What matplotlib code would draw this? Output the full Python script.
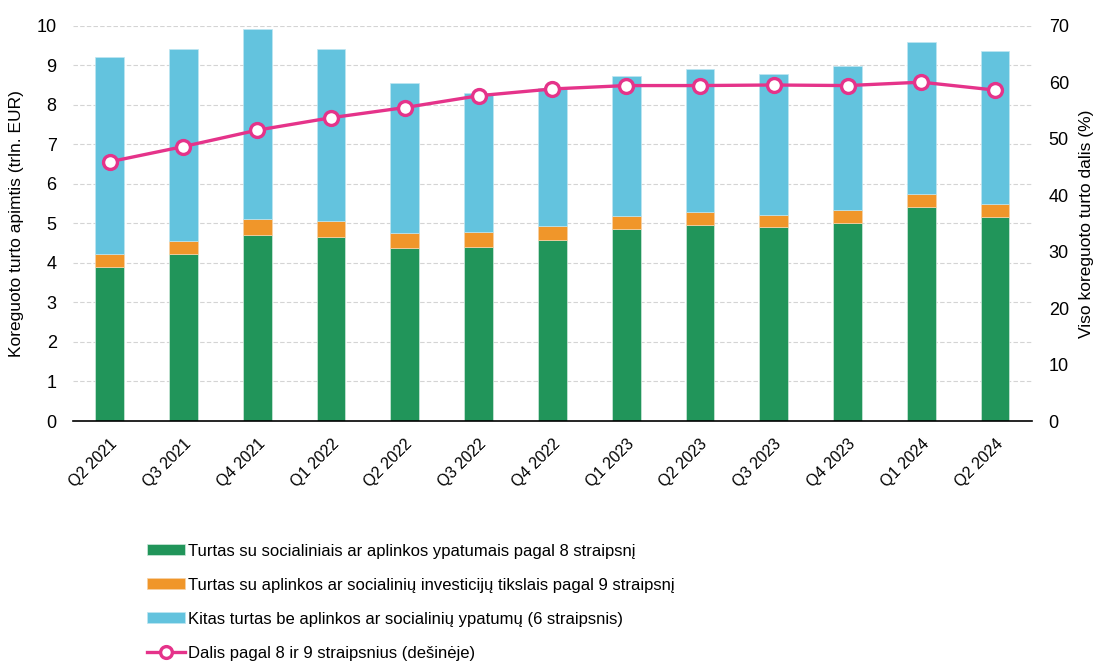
import matplotlib
matplotlib.use("Agg")
import matplotlib.pyplot as plt
import numpy as np

# Data
quarters = ["Q2 2021", "Q3 2021", "Q4 2021", "Q1 2022", "Q2 2022", "Q3 2022", "Q4 2022",
            "Q1 2023", "Q2 2023", "Q3 2023", "Q4 2023", "Q1 2024", "Q2 2024"]
art8 = [3.90, 4.22, 4.71, 4.65, 4.38, 4.41, 4.58, 4.86, 4.95, 4.90, 5.01, 5.41, 5.17]
art9 = [0.32, 0.34, 0.39, 0.40, 0.37, 0.36, 0.35, 0.32, 0.34, 0.32, 0.33, 0.33, 0.32]
art6 = [4.99, 4.84, 4.82, 4.36, 3.81, 3.53, 3.49, 3.55, 3.61, 3.56, 3.65, 3.85, 3.87]
share = [45.9, 48.6, 51.5, 53.7, 55.5, 57.6, 58.8, 59.4, 59.4, 59.5, 59.4, 60.0, 58.6]

labels = ["Turtas su socialiniais ar aplinkos ypatumais pagal 8 straipsnį",
          "Turtas su aplinkos ar socialinių investicijų tikslais pagal 9 straipsnį",
          "Kitas turtas be aplinkos ar socialinių ypatumų (6 straipsnis)",
          "Dalis pagal 8 ir 9 straipsnius (dešinėje)"]

green = "#21955a"
orange = "#f0962a"
blue = "#63c3de"
pink = "#e5338a"

plt.rcParams["font.family"] = ["Liberation Sans", "DejaVu Sans"]

fig = plt.figure(figsize=(10.95, 6.62), dpi=100)
ax = fig.add_axes([72.7 / 1095, 1 - 421 / 662, (1032 - 72.7) / 1095, (421 - 25.7) / 662])
ax2 = ax.twinx()

x = np.arange(len(quarters))
a8 = np.array(art8)
a9 = np.array(art9)
a6 = np.array(art6)
w = 0.39
b1 = ax.bar(x, a8, w, color=green, edgecolor="#cfe9dc", linewidth=0.5, label=labels[0], zorder=2)
b2 = ax.bar(x, a9, w, bottom=a8, color=orange, edgecolor="#f6d2a8", linewidth=0.5, label=labels[1], zorder=2)
b3 = ax.bar(x, a6, w, bottom=a8 + a9, color=blue, edgecolor="#bfe6f1", linewidth=0.5, label=labels[2], zorder=2)

ln, = ax2.plot(x, share, color=pink, lw=2.4, marker="o", ms=10, mfc="white", mec=pink, mew=2.4,
               label=labels[3], zorder=3)

ax.set_xlim(-0.5, len(quarters) - 0.5)
ax.set_ylim(0, 10)
ax2.set_ylim(0, 70)
ax.set_yticks(range(0, 11))
ax2.set_yticks(range(0, 71, 10))

ax.yaxis.grid(True, color="#d4d4d4", linestyle=(0, (4, 2)), linewidth=0.8, zorder=0)
ax.set_axisbelow(True)

for a in (ax, ax2):
    for s in ("top", "left", "right", "bottom"):
        a.spines[s].set_visible(False)
ax.spines["bottom"].set_visible(True)
ax.spines["bottom"].set_color("black")
ax.spines["bottom"].set_linewidth(1.2)

ax.tick_params(axis="y", length=0, pad=11.5, labelsize=13)
ax2.tick_params(axis="y", length=0, pad=12, labelsize=13)
ax.tick_params(axis="x", length=0, pad=11)
ax.set_xticks(x)
ax.set_xticklabels(quarters, rotation=45, ha="right", rotation_mode="anchor", fontsize=11.5)

ax.set_ylabel("Koreguoto turto apimtis (trln. EUR)", fontsize=12.5, labelpad=9)
ax2.set_ylabel("Viso koreguoto turto dalis (%)", fontsize=12.5, labelpad=7)

ax2.set_zorder(ax.get_zorder() + 1)
ax2.patch.set_visible(False)

fig.legend([b1, b2, b3, ln], labels, loc="upper left", bbox_to_anchor=(140 / 1095, 1 - 537 / 662),
           frameon=False, fontsize=12, handlelength=2.3, handleheight=0.6, markerscale=0.85,
           handletextpad=0.2, labelspacing=1.14, borderaxespad=0)

fig.savefig("out.png", dpi=100)
